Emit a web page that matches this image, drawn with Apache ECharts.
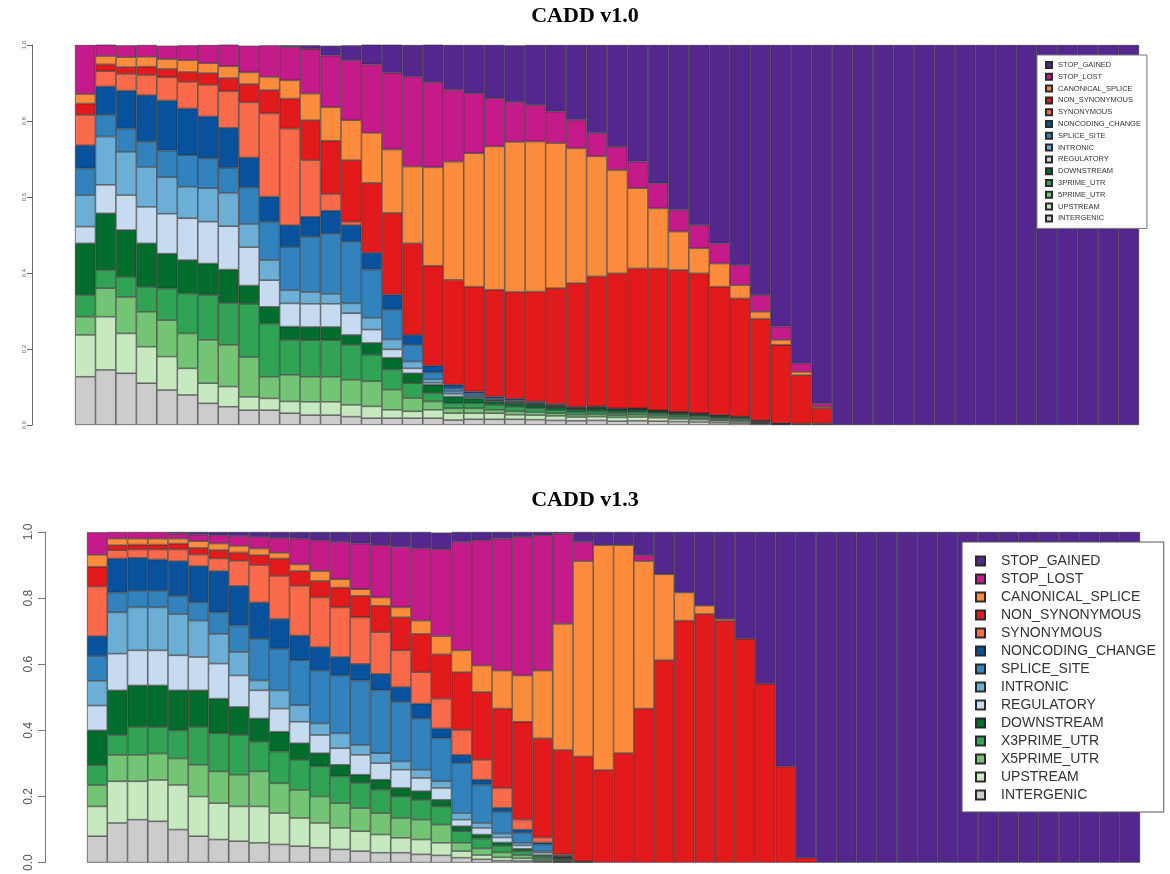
<!DOCTYPE html>
<html>
<head>
<meta charset="utf-8">
<script src="https://cdn.jsdelivr.net/npm/echarts@6/dist/echarts.min.js"></script>
<style>
html,body{margin:0;padding:0;background:#fff;}
#chart{width:1170px;height:874px;}
</style>
</head>
<body>
<div id="chart"></div>
<script>
// Score bins (52 bars per panel)
const scoreBins = ["0","1","2","3","4","5","6","7","8","9","10","11","12","13","14","15","16","17","18","19","20","21","22","23","24","25","26","27","28","29","30","31","32","33","34","35","36","37","38","39","40","41","42","43","44","45","46","47","48","49","50","51"];

// Legend names (top to bottom)
const classNames10 = ["STOP_GAINED","STOP_LOST","CANONICAL_SPLICE","NON_SYNONYMOUS","SYNONYMOUS","NONCODING_CHANGE","SPLICE_SITE","INTRONIC","REGULATORY","DOWNSTREAM","3PRIME_UTR","5PRIME_UTR","UPSTREAM","INTERGENIC"];
const classNames13 = ["STOP_GAINED","STOP_LOST","CANONICAL_SPLICE","NON_SYNONYMOUS","SYNONYMOUS","NONCODING_CHANGE","SPLICE_SITE","INTRONIC","REGULATORY","DOWNSTREAM","X3PRIME_UTR","X5PRIME_UTR","UPSTREAM","INTERGENIC"];

// ---- CADD v1.0 proportions per bin ----
const v10_STOP_GAINED = [0,0,0,0,0,0,0,0,0,0,.004,.009,.026,.039,.053,.075,.083,.101,.118,.127,.14,.149,.158,.175,.197,.232,.268,.307,.364,.434,.474,.522,.579,.658,.741,.838,.943,1,1,1,1,1,1,1,1,1,1,1,1,1,1,1];
const v10_STOP_LOST = [.129,.031,.031,.031,.035,.039,.048,.057,.07,.083,.088,.118,.136,.158,.18,.202,.237,.224,.189,.158,.127,.105,.096,.083,.075,.061,.061,.07,.066,.057,.061,.053,.053,.044,.035,.022,.009,0,0,0,0,0,0,0,0,0,0,0,0,0,0,0];
const v10_CANONICAL_SPLICE = [.025,.022,.026,.026,.026,.031,.026,.031,.031,.035,.048,.07,.088,.105,.132,.167,.202,.259,.311,.351,.377,.395,.395,.382,.355,.316,.272,.211,.158,.101,.066,.061,.035,.018,.013,.009,.004,0,0,0,0,0,0,0,0,0,0,0,0,0,0,0];
const v10_NON_SYNONYMOUS = [.03,.018,.018,.022,.022,.026,.031,.035,.048,.061,.079,.105,.14,.162,.184,.215,.241,.263,.276,.276,.281,.281,.289,.305,.325,.342,.355,.368,.373,.373,.368,.338,.311,.268,.206,.127,.04,0,0,0,0,0,0,0,0,0,0,0,0,0,0,0];
const v10_SYNONYMOUS = [.08,.04,.044,.053,.061,.07,.083,.096,.145,.219,.254,.149,.044,.009,0,0,0,0,0,0,0,0,0,0,0,0,0,0,0,0,0,0,0,0,0,0,0,0,0,0,0,0,0,0,0,0,0,0,0,0,0,0];
const v10_NONCODING_CHANGE = [.061,.075,.1,.123,.132,.123,.11,.105,.079,.066,.057,.053,.061,.044,.044,.039,.026,.018,.009,.005,.005,.004,.004,.003,.002,.002,.002,.001,.001,.001,.001,.001,.001,.001,0,0,0,0,0,0,0,0,0,0,0,0,0,0,0,0,0,0];
const v10_SPLICE_SITE = [.07,.057,.061,.066,.07,.083,.079,.066,.096,.101,.114,.145,.158,.162,.127,.079,.044,.018,.009,.006,.004,.004,.003,.003,.002,.002,.001,.001,.001,.001,.001,.001,.001,0,0,0,0,0,0,0,0,0,0,0,0,0,0,0,0,0,0,0];
const v10_INTRONIC = [.083,.127,.114,.105,.096,.083,.088,.088,.061,.053,.035,.031,.026,.026,.031,.026,.018,.009,.006,.004,.002,.002,.002,.001,.001,.001,.001,.001,.001,.001,.001,.001,0,0,0,0,0,0,0,0,0,0,0,0,0,0,0,0,0,0,0,0];
const v10_REGULATORY = [.044,.075,.092,.096,.105,.11,.11,.114,.101,.07,.061,.061,.061,.057,.035,.022,.013,.005,.007,.003,.002,.002,.001,.001,.001,.001,.001,.001,.001,.001,0,0,0,0,0,0,0,0,0,0,0,0,0,0,0,0,0,0,0,0,0,0];
const v10_DOWNSTREAM = [.136,.149,.123,.114,.092,.088,.083,.088,.048,.044,.035,.035,.035,.026,.031,.031,.026,.022,.018,.013,.009,.009,.008,.008,.008,.008,.007,.007,.006,.006,.005,.005,.004,.002,.001,0,0,0,0,0,0,0,0,0,0,0,0,0,0,0,0,0];
const v10_3PRIME_UTR = [.057,.048,.053,.066,.083,.105,.118,.11,.14,.14,.092,.096,.096,.092,.07,.053,.039,.022,.013,.013,.013,.012,.01,.008,.007,.007,.006,.006,.005,.005,.005,.004,.004,.002,.001,0,0,0,0,0,0,0,0,0,0,0,0,0,0,0,0,0];
const v10_5PRIME_UTR = [.048,.075,.096,.092,.096,.092,.114,.11,.105,.057,.07,.066,.066,.066,.066,.053,.035,.022,.013,.013,.009,.009,.008,.007,.006,.006,.006,.006,.005,.004,.004,.003,.003,.002,0,0,0,0,0,0,0,0,0,0,0,0,0,0,0,0,0,0];
const v10_UPSTREAM = [.11,.14,.105,.096,.088,.07,.053,.053,.035,.031,.031,.035,.035,.031,.031,.022,.018,.022,.018,.016,.016,.012,.012,.012,.01,.01,.01,.01,.009,.007,.006,.005,.004,.002,.001,.002,.002,0,0,0,0,0,0,0,0,0,0,0,0,0,0,0];
const v10_INTERGENIC = [.127,.145,.136,.11,.092,.079,.057,.048,.039,.039,.031,.026,.026,.022,.018,.018,.018,.018,.013,.015,.015,.015,.014,.012,.011,.012,.01,.011,.01,.009,.008,.006,.005,.003,.002,.002,.002,0,0,0,0,0,0,0,0,0,0,0,0,0,0,0];

// ---- CADD v1.3 proportions per bin ----
const v13_STOP_GAINED = [0,0,0,0,.005,.008,.01,.012,.015,.018,.02,.025,.03,.035,.04,.045,.05,.05,.03,.025,.02,.015,.01,.005,.03,.04,.04,.07,.128,.183,.223,.263,.323,.459,.709,.985,1,1,1,1,1,1,1,1,1,1,1,1,1,1,1,1];
const v13_STOP_LOST = [.068,.02,.02,.02,.015,.02,.025,.03,.035,.045,.078,.093,.113,.138,.158,.183,.218,.263,.328,.379,.399,.419,.409,.273,.058,0,0,.018,0,0,0,0,0,0,0,0,0,0,0,0,0,0,0,0,0,0,0,0,0,0,0,0];
const v13_CANONICAL_SPLICE = [.036,.02,.018,.018,.015,.02,.02,.02,.02,.017,.02,.03,.025,.02,.025,.03,.04,.055,.066,.08,.115,.14,.205,.381,.591,.68,.629,.446,.26,.085,.025,.005,0,0,0,0,0,0,0,0,0,0,0,0,0,0,0,0,0,0,0,0];
const v13_NON_SYNONYMOUS = [.06,.015,.015,.015,.018,.02,.025,.025,.03,.053,.045,.05,.06,.065,.08,.1,.116,.134,.175,.205,.24,.296,.3,.316,.317,.28,.331,.466,.612,.732,.752,.732,.677,.541,.291,.015,0,0,0,0,0,0,0,0,0,0,0,0,0,0,0,0];
const v13_SYNONYMOUS = [.15,.025,.025,.03,.035,.035,.038,.076,.113,.13,.15,.15,.15,.141,.126,.111,.095,.09,.075,.06,.06,.03,.015,.004,0,0,0,0,0,0,0,0,0,0,0,0,0,0,0,0,0,0,0,0,0,0,0,0,0,0,0,0];
const v13_NONCODING_CHANGE = [.06,.103,.1,.095,.105,.11,.125,.12,.11,.09,.075,.071,.056,.05,.05,.045,.045,.03,.025,.015,.012,.01,.006,.002,0,0,0,0,0,0,0,0,0,0,0,0,0,0,0,0,0,0,0,0,0,0,0,0,0,0,0,0];
const v13_SPLICE_SITE = [.075,.06,.05,.05,.055,.055,.065,.08,.126,.126,.136,.16,.175,.195,.19,.18,.155,.13,.151,.116,.066,.03,.02,.003,0,0,0,0,0,0,0,0,0,0,0,0,0,0,0,0,0,0,0,0,0,0,0,0,0,0,0,0];
const v13_INTRONIC = [.075,.125,.13,.13,.125,.11,.09,.071,.03,.055,.05,.035,.045,.03,.03,.025,.025,.02,.02,.015,.012,.008,.005,.001,0,0,0,0,0,0,0,0,0,0,0,0,0,0,0,0,0,0,0,0,0,0,0,0,0,0,0,0];
const v13_REGULATORY = [.075,.111,.106,.106,.106,.101,.106,.095,.085,.07,.065,.055,.05,.06,.05,.055,.04,.036,.02,.02,.015,.01,.007,.002,0,0,0,0,0,0,0,0,0,0,0,0,0,0,0,0,0,0,0,0,0,0,0,0,0,0,0,0];
const v13_DOWNSTREAM = [.105,.135,.125,.126,.121,.11,.105,.085,.07,.06,.05,.04,.035,.025,.03,.026,.026,.02,.015,.012,.01,.007,.005,.002,0,0,0,0,0,0,0,0,0,0,0,0,0,0,0,0,0,0,0,0,0,0,0,0,0,0,0,0];
const v13_X3PRIME_UTR = [.06,.06,.085,.08,.085,.115,.115,.12,.09,.096,.091,.091,.081,.076,.071,.065,.06,.055,.035,.03,.02,.012,.007,.004,0,0,0,0,0,0,0,0,0,0,0,0,0,0,0,0,0,0,0,0,0,0,0,0,0,0,0,0];
const v13_X5PRIME_UTR = [.065,.08,.08,.08,.08,.096,.096,.096,.106,.09,.085,.08,.075,.07,.065,.06,.06,.055,.025,.02,.015,.01,.005,.003,0,0,0,0,0,0,0,0,0,0,0,0,0,0,0,0,0,0,0,0,0,0,0,0,0,0,0,0];
const v13_UPSTREAM = [.09,.126,.116,.125,.135,.12,.11,.105,.11,.095,.085,.075,.065,.06,.055,.045,.045,.038,.02,.013,.01,.008,.003,.002,.002,0,0,0,0,0,0,0,0,0,0,0,0,0,0,0,0,0,0,0,0,0,0,0,0,0,0,0];
const v13_INTERGENIC = [.08,.12,.13,.125,.1,.08,.07,.065,.06,.055,.05,.045,.04,.035,.03,.03,.025,.022,.015,.01,.006,.005,.003,.002,.002,0,0,0,0,0,0,0,0,0,0,0,0,0,0,0,0,0,0,0,0,0,0,0,0,0,0,0];

// Colours (same order as the legend)
const classColors = ['#54278f','#c51b8a','#fd8d3c','#e31a1c','#fb6a4a','#08519c','#3182bd','#6baed6','#c6dbef','#006d2c','#31a354','#74c476','#c7e9c0','#cccccc'];

const panel10 = [v10_STOP_GAINED,v10_STOP_LOST,v10_CANONICAL_SPLICE,v10_NON_SYNONYMOUS,v10_SYNONYMOUS,v10_NONCODING_CHANGE,v10_SPLICE_SITE,v10_INTRONIC,v10_REGULATORY,v10_DOWNSTREAM,v10_3PRIME_UTR,v10_5PRIME_UTR,v10_UPSTREAM,v10_INTERGENIC];
const panel13 = [v13_STOP_GAINED,v13_STOP_LOST,v13_CANONICAL_SPLICE,v13_NON_SYNONYMOUS,v13_SYNONYMOUS,v13_NONCODING_CHANGE,v13_SPLICE_SITE,v13_INTRONIC,v13_REGULATORY,v13_DOWNSTREAM,v13_X3PRIME_UTR,v13_X5PRIME_UTR,v13_UPSTREAM,v13_INTERGENIC];

function buildSeries(panel, names, gi, stackId, bw) {
  const out = [];
  for (let k = names.length - 1; k >= 0; k--) { // bottom class first
    out.push({
      name: names[k], type: 'bar', stack: stackId,
      xAxisIndex: gi, yAxisIndex: gi,
      barCategoryGap: '0%', barGap: '0%',
      itemStyle: { color: classColors[k], borderColor: '#2a2a2a', borderWidth: bw },
      emphasis: { disabled: true },
      data: panel[k].map(v => (v > 0 ? v : '-'))
    });
  }
  return out;
}

const chart = echarts.init(document.getElementById('chart'), null, { renderer: 'canvas' });

const titleFont = { fontFamily: 'Liberation Serif', fontWeight: 'bold', fontSize: 22, color: '#000' };

chart.setOption({
  animation: false,
  backgroundColor: '#fff',
  title: [
    { text: 'CADD v1.0', left: 'center', top: 0, textStyle: titleFont },
    { text: 'CADD v1.3', left: 'center', top: 484, textStyle: titleFont }
  ],
  grid: [
    { left: 75, top: 45, width: 1064, height: 380 },
    { left: 87, top: 532, width: 1053, height: 333 }
  ],
  xAxis: [
    { type: 'category', gridIndex: 0, data: scoreBins, show: false, boundaryGap: true },
    { type: 'category', gridIndex: 1, data: scoreBins, show: false, boundaryGap: true }
  ],
  yAxis: [
    { type: 'value', gridIndex: 0, min: 0, max: 1, interval: 0.2, position: 'left', offset: 43,
      axisLine: { show: true, lineStyle: { color: '#666', width: 1 } },
      axisTick: { show: true, length: 5, lineStyle: { color: '#666' } },
      axisLabel: { rotate: 90, fontSize: 6, color: '#666', margin: 5, fontFamily: 'Liberation Sans',
        formatter: v => v.toFixed(1) },
      splitLine: { show: false } },
    { type: 'value', gridIndex: 1, min: 0, max: 1, interval: 0.2, position: 'left', offset: 42,
      axisLine: { show: true, lineStyle: { color: '#777', width: 1 } },
      axisTick: { show: true, length: 7, lineStyle: { color: '#777' } },
      axisLabel: { rotate: 90, fontSize: 12, color: '#555', margin: 10, fontFamily: 'Liberation Sans',
        formatter: v => v.toFixed(1) },
      splitLine: { show: false } }
  ],
  legend: [
    { data: classNames10, orient: 'vertical', left: 1037, top: 55, icon: 'rect',
      itemWidth: 6, itemHeight: 6, itemGap: 3.8, selectedMode: false,
      padding: [6, 6, 6, 8], backgroundColor: '#fff', borderColor: '#777', borderWidth: 1,
      textStyle: { fontSize: 7.5, lineHeight: 8, color: '#333', fontFamily: 'Liberation Sans', padding: [0,0,0,1] } },
    { data: classNames13, orient: 'vertical', left: 962, top: 542, icon: 'rect',
      itemWidth: 9, itemHeight: 9, itemGap: 4, selectedMode: false,
      padding: [12, 8, 10, 13], backgroundColor: '#fff', borderColor: '#555', borderWidth: 1,
      textStyle: { fontSize: 14, lineHeight: 14, color: '#333', fontFamily: 'Liberation Sans', padding: [0,0,0,11] } }
  ],
  series: [].concat(
    buildSeries(panel10, classNames10, 0, 'v10', 0.6),
    buildSeries(panel13, classNames13, 1, 'v13', 0.6)
  )
});
</script>
</body>
</html>
